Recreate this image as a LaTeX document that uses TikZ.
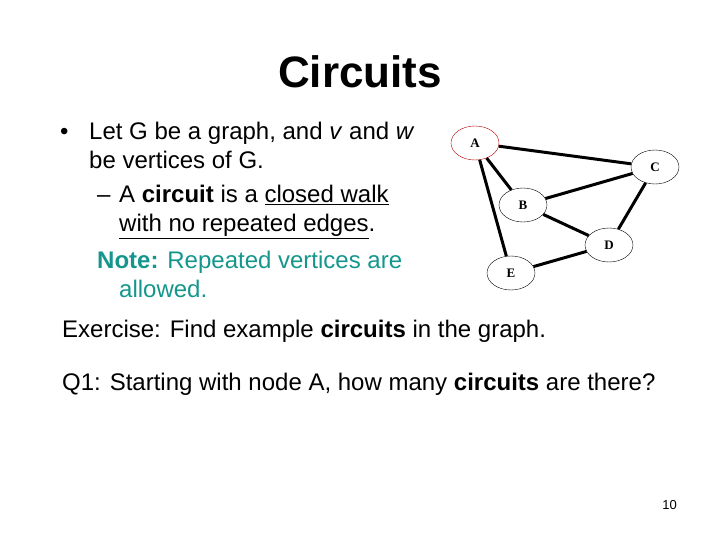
\documentclass[tikz,border=0pt]{standalone}
\usepackage{fontspec}
\setmainfont{Liberation Sans}
\newfontfamily\serifb{Liberation Serif}
\usetikzlibrary{shapes.geometric}
\newcommand\myul[1]{\underline{#1}}
\definecolor{teal2}{RGB}{20,150,140}
\begin{document}
\begin{tikzpicture}[x=1pt,y=-1pt,
  vtx/.style={ellipse,draw,line width=0.4pt,minimum width=48pt,minimum height=34pt,inner sep=0pt,font=\serifb\bfseries\fontsize{13}{13}\selectfont},
  edge/.style={line width=3pt},
  txt/.style={anchor=base west,inner sep=0pt,font=\fontsize{24}{28}\selectfont}]
\useasboundingbox (0,0) rectangle (720,540);
\node[anchor=base,inner sep=0pt,font=\bfseries\fontsize{44}{48}\selectfont] (title) at (360,88) {Circuits};
\node[txt] (bul) at (60,140) {•};
\node[txt] (l1) at (89,140) {Let G be a graph, and \textit{v} and \textit{w}};
\node[txt] (l2) at (89,169) {be vertices of G.};
\node[txt] (d) at (97,203) {–};
\node[txt] (l3) at (119,203) {A \textbf{circuit} is a \myul{closed walk}};
\node[txt] (l4) at (119,232) {\myul{with no repeated edges}.};
\node[txt,text=teal2] (l5) at (97,268) {\textbf{Note:} Repeated vertices are};
\node[txt,text=teal2] (l6) at (119,297) {allowed.};
\node[txt] (ex) at (62,337) {Exercise: Find example \textbf{circuits} in the graph.};
\node[txt] (q1) at (62,390) {Q1: Starting with node A, how many \textbf{circuits} are there?};
\node[anchor=base east,inner sep=0pt,font=\fontsize{13}{13}\selectfont] (pg) at (677,509) {10};
\node[vtx,draw=red!70!black] (A) at (475,143) {A};
\node[vtx] (C) at (655,167) {C};
\node[vtx] (B) at (523,205) {B};
\node[vtx] (D) at (609,245) {D};
\node[vtx] (E) at (511,273) {E};
\draw[edge] (A) -- (C);
\draw[edge] (A) -- (B);
\draw[edge] (A) -- (E);
\draw[edge] (B) -- (C);
\draw[edge] (B) -- (D);
\draw[edge] (C) -- (D);
\draw[edge] (D) -- (E);
\end{tikzpicture}
\end{document}
